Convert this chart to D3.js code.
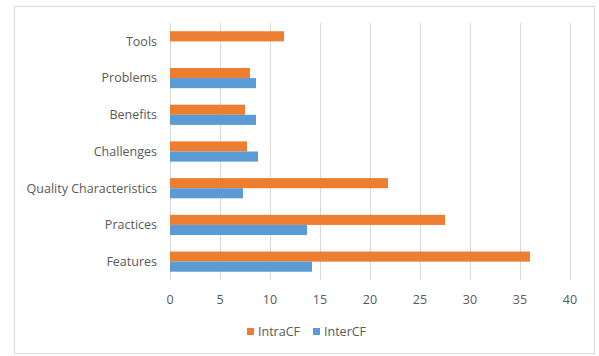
<!DOCTYPE html>
<html>
<head>
<meta charset="utf-8">
<script src="https://cdn.jsdelivr.net/npm/d3@7"></script>
<style>
  body { margin: 0; background: #fff; }
  svg text { font-family: "Open Sans", sans-serif; fill: #595959; }
</style>
</head>
<body>
<div id="chart"></div>
<script>
(function() {
	// categories listed top to bottom
	var categories = ["Tools", "Problems", "Benefits", "Challenges", "Quality Characteristics", "Practices", "Features"];
	var intraCF = [11.4, 8.0, 7.5, 7.7, 21.8, 27.5, 36.0];
	var interCF = [0, 8.6, 8.6, 8.8, 7.3, 13.7, 14.2];
	var seriesNames = ["IntraCF", "InterCF"];
	var seriesColors = ["#ED7D31", "#5B9BD5"];
	var xTicks = [0, 5, 10, 15, 20, 25, 30, 35, 40];

	var width = 599, height = 356;
	var left = 170, right = 570, top = 23, bottom = 280;

	var svg = d3.select("#chart").append("svg")
		.attr("width", width)
		.attr("height", height);

	svg.append("rect")
		.attr("x", 14.5).attr("y", 6.5)
		.attr("width", 580).attr("height", 347)
		.attr("fill", "#fff")
		.attr("stroke", "#D9D9D9");

	var x = d3.scaleLinear().domain([0, 40]).range([left, right]);
	var y = d3.scaleBand().domain(categories).range([top, bottom]).paddingInner(0.45).paddingOuter(0.225);
	var ySub = d3.scaleBand().domain(seriesNames).range([0, y.bandwidth()]);

	// gridlines
	svg.append("g").selectAll("line")
		.data(xTicks)
		.enter().append("line")
		.attr("x1", function(d) { return Math.round(x(d)) + 0.5; })
		.attr("x2", function(d) { return Math.round(x(d)) + 0.5; })
		.attr("y1", top).attr("y2", bottom)
		.attr("stroke", "#D9D9D9");

	var rows = categories.map(function(c, i) {
		return { cat: c, values: [intraCF[i], interCF[i]] };
	});

	var groups = svg.append("g").selectAll("g")
		.data(rows)
		.enter().append("g")
		.attr("transform", function(d) { return "translate(0," + y(d.cat) + ")"; });

	groups.selectAll("rect")
		.data(function(d) { return d.values.map(function(v, j) { return { name: seriesNames[j], value: v, color: seriesColors[j] }; }); })
		.enter().append("rect")
		.attr("x", x(0))
		.attr("y", function(d) { return ySub(d.name); })
		.attr("width", function(d) { return x(d.value) - x(0); })
		.attr("height", ySub.bandwidth())
		.attr("fill", function(d) { return d.color; });

	// category labels
	svg.append("g").selectAll("text")
		.data(categories)
		.enter().append("text")
		.attr("x", 157)
		.attr("y", function(d) { return y(d) + y.bandwidth() / 2; })
		.attr("dy", "0.35em")
		.attr("text-anchor", "end")
		.attr("font-size", 12.5)
		.text(function(d) { return d; });

	// x tick labels
	svg.append("g").selectAll("text")
		.data(xTicks)
		.enter().append("text")
		.attr("x", function(d) { return x(d); })
		.attr("y", 300)
		.attr("dy", "0.35em")
		.attr("text-anchor", "middle")
		.attr("font-size", 12.5)
		.text(function(d) { return d; });

	// legend
	var legendX = [247, 313];
	var legend = svg.append("g").selectAll("g")
		.data(seriesNames)
		.enter().append("g")
		.attr("transform", function(d, i) { return "translate(" + legendX[i] + ",328)"; });
	legend.append("rect")
		.attr("width", 7).attr("height", 7)
		.attr("fill", function(d, i) { return seriesColors[i]; });
	legend.append("text")
		.attr("x", 11).attr("y", 3.5)
		.attr("dy", "0.35em")
		.attr("font-size", 12.5)
		.text(function(d) { return d; });
})();
</script>
</body>
</html>
